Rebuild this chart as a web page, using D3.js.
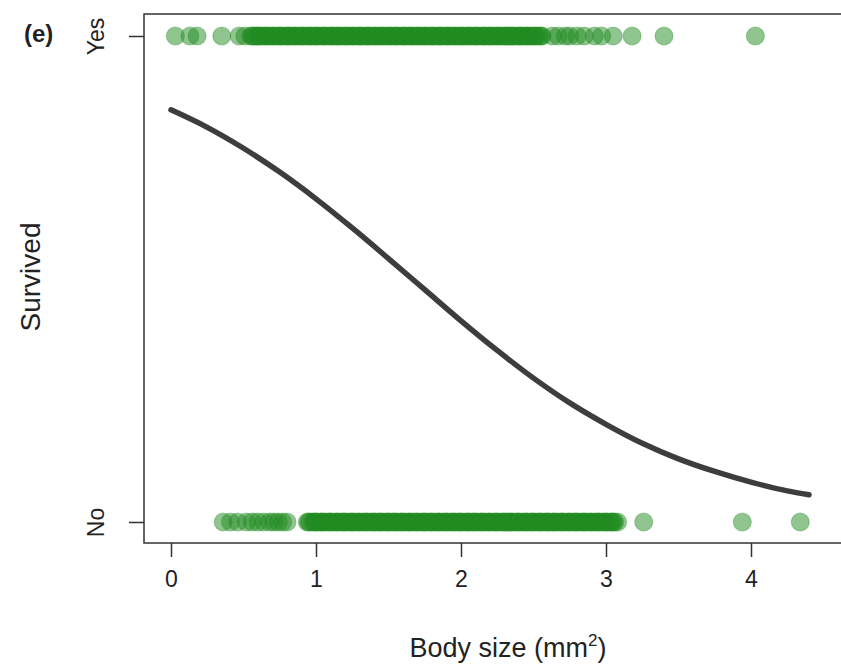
<!DOCTYPE html>
<html>
<head>
<meta charset="utf-8">
<script src="https://cdn.jsdelivr.net/npm/d3@7"></script>
<style>
  html, body { margin: 0; padding: 0; background: #fff; }
  svg text { font-family: "Liberation Sans", Arial, Helvetica, sans-serif; fill: #222; }
</style>
</head>
<body>
<svg id="chart" width="841" height="668"></svg>
<script>
// Body sizes (mm^2) of individuals that survived (Yes)
const survivedSizes = [
  0.03, 0.13, 0.18, 0.35, 0.47, 0.51,
  0.55,0.56,0.57,0.59,0.60,0.61,0.62,0.64,0.65,0.66,0.67,0.69,0.70,0.71,0.72,0.74,0.75,0.76,0.77,0.79,
  0.80,0.81,0.82,0.84,0.85,0.86,0.87,0.89,0.90,0.91,0.92,0.94,0.95,0.96,0.97,0.99,1.00,1.01,1.02,1.04,
  1.05,1.06,1.07,1.09,1.10,1.11,1.12,1.14,1.15,1.16,1.17,1.19,1.20,1.21,1.22,1.24,1.25,1.26,1.27,1.29,
  1.30,1.31,1.32,1.34,1.35,1.36,1.37,1.39,1.40,1.41,1.42,1.44,1.45,1.46,1.47,1.49,1.50,1.51,1.52,1.54,
  1.55,1.56,1.57,1.59,1.60,1.61,1.62,1.64,1.65,1.66,1.67,1.69,1.70,1.71,1.72,1.74,1.75,1.76,1.77,1.79,
  1.80,1.81,1.82,1.84,1.85,1.86,1.87,1.89,1.90,1.91,1.92,1.94,1.95,1.96,1.97,1.99,2.00,2.01,2.02,2.04,
  2.05,2.06,2.07,2.09,2.10,2.11,2.12,2.14,2.15,2.16,2.17,2.19,2.20,2.21,2.22,2.24,2.25,2.26,2.27,2.29,
  2.30,2.31,2.32,2.34,2.35,2.36,2.37,2.39,2.40,2.41,2.42,2.44,2.45,2.46,2.47,2.49,2.50,2.51,2.52,2.54,
  2.55,2.56,
  2.63, 2.67, 2.72, 2.75, 2.80, 2.85, 2.92, 2.97, 3.05, 3.18, 3.40, 4.03
];

// Body sizes (mm^2) of individuals that did not survive (No)
const diedSizes = [
  0.36, 0.41, 0.46, 0.52, 0.56, 0.60, 0.64, 0.68, 0.71, 0.74, 0.77, 0.80,
  0.94,0.95,0.96,0.98,0.99,1.00,1.01,1.03,1.04,1.05,1.06,1.08,1.09,1.10,1.11,1.13,1.14,1.15,1.16,1.18,
  1.19,1.20,1.21,1.23,1.24,1.25,1.26,1.28,1.29,1.30,1.31,1.33,1.34,1.35,1.36,1.38,1.39,1.40,1.41,1.43,
  1.44,1.45,1.46,1.48,1.49,1.50,1.51,1.53,1.54,1.55,1.56,1.58,1.59,1.60,1.61,1.63,1.64,1.65,1.66,1.68,
  1.69,1.70,1.71,1.73,1.74,1.75,1.76,1.78,1.79,1.80,1.81,1.83,1.84,1.85,1.86,1.88,1.89,1.90,1.91,1.93,
  1.94,1.95,1.96,1.98,1.99,2.00,2.01,2.03,2.04,2.05,2.06,2.08,2.09,2.10,2.11,2.13,2.14,2.15,2.16,2.18,
  2.19,2.20,2.21,2.23,2.24,2.25,2.26,2.28,2.29,2.30,2.31,2.33,2.34,2.35,2.36,2.38,2.39,2.40,2.41,2.43,
  2.44,2.45,2.46,2.48,2.49,2.50,2.51,2.53,2.54,2.55,2.56,2.58,2.59,2.60,2.61,2.63,2.64,2.65,2.66,2.68,
  2.69,2.70,2.71,2.73,2.74,2.75,2.76,2.78,2.79,2.80,2.81,2.83,2.84,2.85,2.86,2.88,2.89,2.90,2.91,2.93,
  2.94,2.95,2.96,2.98,2.99,3.00,3.01,3.03,3.04,3.05,3.06,3.08,
  3.26, 3.94, 4.34
];

// Fitted survival probability along body size
const curveSizes = [0, 0.25, 0.5, 0.75, 1.0, 1.25, 1.5, 1.75, 2.0, 2.25, 2.5, 2.75,
                    3.0, 3.25, 3.5, 3.75, 4.0, 4.25, 4.4];
const curveProb  = [0.848, 0.812, 0.769, 0.720, 0.665, 0.605, 0.542, 0.478, 0.414,
                    0.353, 0.296, 0.245, 0.201, 0.162, 0.130, 0.104, 0.082, 0.064, 0.056];

const xTicks = [0, 1, 2, 3, 4];
const yCategories = ["No", "Yes"];

const svg = d3.select("#chart");
const box = { left: 144, top: 14, right: 846, bottom: 543 };

const x = d3.scaleLinear().domain([0, 4]).range([171, 751]);
const y = d3.scaleLinear().domain([0, 1]).range([522, 36]);

// Plot frame
svg.append("rect")
  .attr("x", box.left).attr("y", box.top)
  .attr("width", box.right - box.left).attr("height", box.bottom - box.top)
  .attr("fill", "none").attr("stroke", "#333").attr("stroke-width", 1.5);

// X axis
const xAxis = svg.append("g")
  .attr("transform", `translate(0,${box.bottom})`)
  .call(d3.axisBottom(x).tickValues(xTicks).tickFormat(d3.format("d")).tickSize(14).tickPadding(14));
xAxis.select(".domain").remove();
xAxis.selectAll("line").attr("stroke", "#333").attr("stroke-width", 1.5);
xAxis.selectAll("text").attr("font-size", 23).attr("fill", "#222")
  .style("font-family", "'Liberation Sans', Arial, sans-serif");

// Y axis (categorical: No = 0, Yes = 1)
const yAxis = svg.append("g")
  .attr("transform", `translate(${box.left},0)`)
  .call(d3.axisLeft(y).tickValues([0, 1]).tickFormat(d => yCategories[d]).tickSize(15).tickPadding(0));
yAxis.select(".domain").remove();
yAxis.selectAll("line").attr("stroke", "#333").attr("stroke-width", 1.5);
yAxis.selectAll("text")
  .attr("x", null)
  .attr("font-size", 23).attr("fill", "#222")
  .attr("text-anchor", "middle")
  .attr("transform", "translate(-48,0) rotate(-90)")
  .attr("dy", "0.36em")
  .style("font-family", "'Liberation Sans', Arial, sans-serif");

// Observations: semi-transparent points, so dense runs build up to solid green
const pointFill = "rgb(34,139,34)";
function drawRow(values, level) {
  svg.append("g").selectAll("circle")
    .data(values)
    .join("circle")
    .attr("cx", d => x(d))
    .attr("cy", y(level))
    .attr("r", 9)
    .attr("fill", pointFill)
    .attr("fill-opacity", 0.5)
    .attr("stroke", pointFill)
    .attr("stroke-opacity", 0.35)
    .attr("stroke-width", 1.2);
}
drawRow(survivedSizes, 1);
drawRow(diedSizes, 0);

// Logistic fit
const line = d3.line()
  .x((d, i) => x(curveSizes[i]))
  .y(d => y(d))
  .curve(d3.curveMonotoneX);
svg.append("path")
  .datum(curveProb)
  .attr("d", line)
  .attr("fill", "none")
  .attr("stroke", "#3d3d3d")
  .attr("stroke-width", 5.5)
  .attr("stroke-linecap", "round");

// Axis titles
const xTitle = svg.append("text")
  .attr("x", 508).attr("y", 657)
  .attr("text-anchor", "middle")
  .attr("font-size", 27);
xTitle.append("tspan").text("Body size (mm");
xTitle.append("tspan").attr("font-size", 17).attr("dy", -11).text("2");
xTitle.append("tspan").attr("dy", 11).text(")");

svg.append("text")
  .attr("transform", "translate(40,277) rotate(-90)")
  .attr("text-anchor", "middle")
  .attr("font-size", 28)
  .text("Survived");

// Panel label
svg.append("text")
  .attr("x", 24).attr("y", 42)
  .attr("font-size", 24).attr("font-weight", "bold")
  .text("(e)");
</script>
</body>
</html>
